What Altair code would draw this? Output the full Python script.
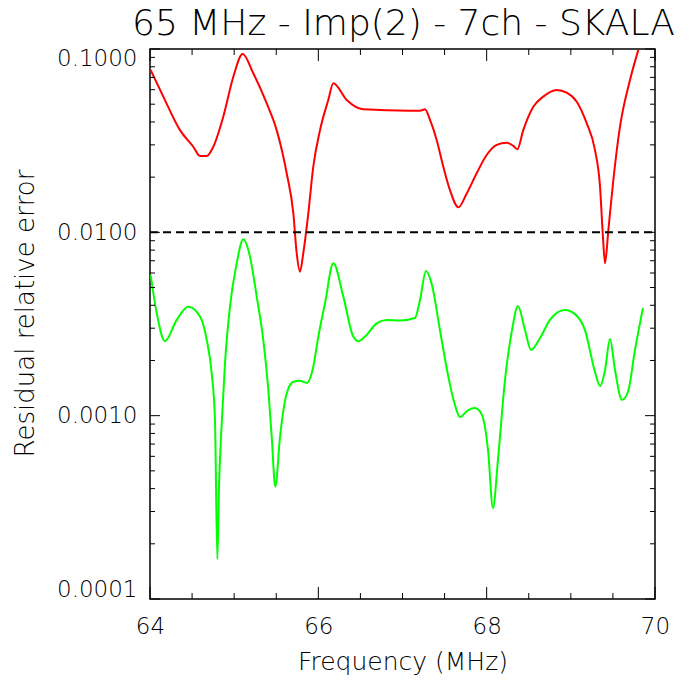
import altair as alt
import pandas as pd

# Red curve (upper)
red_freq = [64.008, 64.158, 64.356, 64.514, 64.594, 64.674, 64.752, 64.871, 64.990, 65.101,
            65.227, 65.386, 65.505, 65.624, 65.703, 65.743, 65.782, 65.821, 65.881, 65.940,
            66.020, 66.118, 66.178, 66.337, 66.534, 67.089, 67.208, 67.267, 67.327, 67.406,
            67.485, 67.564, 67.663, 67.763, 67.881, 68.000, 68.119, 68.238, 68.316, 68.364,
            68.435, 68.554, 68.673, 68.832, 68.951, 69.070, 69.188, 69.287, 69.347, 69.379,
            69.406, 69.446, 69.505, 69.584, 69.703, 69.802]
red_val = [0.0768, 0.0550, 0.0361, 0.0293, 0.0261, 0.0261, 0.0293, 0.0428, 0.0706, 0.0939,
           0.0737, 0.0506, 0.0361, 0.0210, 0.0127, 0.00769, 0.00610, 0.00769, 0.0127, 0.0228,
           0.0361, 0.0527, 0.0650, 0.0527, 0.0469, 0.0461, 0.0461, 0.0469, 0.0410, 0.0319,
           0.0228, 0.0170, 0.0137, 0.0163, 0.0210, 0.0264, 0.0300, 0.0308, 0.0296, 0.0284,
           0.0361, 0.0484, 0.0550, 0.0598, 0.0578, 0.0516, 0.0394, 0.0281, 0.0177, 0.00989,
           0.00678, 0.0103, 0.0193, 0.0377, 0.0678, 0.0990]

# Green curve (lower)
green_freq = [64.008, 64.080, 64.178, 64.317, 64.455, 64.594, 64.674, 64.733, 64.772, 64.800,
              64.820, 64.852, 64.891, 64.950, 65.030, 65.108, 65.188, 65.268, 65.346, 65.406,
              65.446, 65.489, 65.545, 65.624, 65.703, 65.782, 65.862, 65.940, 66.000, 66.079,
              66.178, 66.297, 66.415, 66.475, 66.554, 66.693, 66.812, 66.962, 67.148, 67.208,
              67.279, 67.350, 67.445, 67.540, 67.624, 67.683, 67.778, 67.861, 67.944, 68.016,
              68.075, 68.134, 68.218, 68.301, 68.372, 68.455, 68.527, 68.634, 68.752, 68.930,
              69.049, 69.168, 69.287, 69.347, 69.406, 69.465, 69.525, 69.608, 69.679, 69.762,
              69.857]
green_val = [0.00585, 0.00362, 0.00255, 0.00333, 0.00393, 0.00347, 0.00259, 0.00170, 0.000947, 0.000165,
             0.000410, 0.000908, 0.00193, 0.00393, 0.00678, 0.00916, 0.00736, 0.00446, 0.00259, 0.00138,
             0.000768, 0.000410, 0.000768, 0.00132, 0.00153, 0.00155, 0.00151, 0.00185, 0.00270, 0.00410,
             0.00678, 0.00446, 0.00270, 0.00255, 0.00270, 0.00319, 0.00333, 0.00330, 0.00341, 0.00428,
             0.00615, 0.00516, 0.00293, 0.00167, 0.00114, 0.000984, 0.00107, 0.00110, 0.00101, 0.000650,
             0.000313, 0.000573, 0.00157, 0.00293, 0.00396, 0.00293, 0.00228, 0.00265, 0.00333, 0.00377,
             0.00358, 0.00293, 0.00173, 0.00145, 0.00177, 0.00262, 0.00177, 0.00122, 0.00135, 0.00228,
             0.00387]

threshold_freq = [64.0, 70.0]
threshold_val = [0.01, 0.01]

x_major = [64, 66, 68, 70]
x_minor = [64.5, 65.0, 65.5, 66.5, 67.0, 67.5, 68.5, 69.0, 69.5]
y_major = [0.0001, 0.001, 0.01, 0.1]
y_minor = [m * d for d in [0.0001, 0.001, 0.01] for m in range(2, 10)]

TITLE = ["65 MHz - Imp(2) - 7ch - SKALA"]
FONT = "DejaVu Sans"
W, H = 505, 550

xs = alt.Scale(domain=[64, 70], nice=False, zero=False)
ys = alt.Scale(type="log", domain=[0.0001, 0.1], nice=False)

red_df = pd.DataFrame({"f": red_freq, "v": red_val})
green_df = pd.DataFrame({"f": green_freq, "v": green_val})
thr_df = pd.DataFrame({"f": threshold_freq, "v": threshold_val})

x_axis = alt.Axis(values=x_major, format="d", ticks=False, domain=False, grid=False,
                  labelFont=FONT, labelFontSize=23, labelColor="black", labelPadding=16,
                  labelFlush=False, labelFontWeight=200,
                  title="Frequency (MHz)", titleFont=FONT, titleFontSize=25, titleFontWeight=200,
                  titleColor="black", titleBaseline="alphabetic", titleY=70)
y_axis = alt.Axis(values=y_major, format=".4f", ticks=False, domain=False, grid=False,
                  labelFont=FONT, labelFontSize=23, labelColor="black", labelPadding=13,
                  labelFlush=True, labelFlushOffset=2, labelFontWeight=200,
                  title="Residual relative error", titleFont=FONT, titleFontSize=26,
                  titleFontWeight=200, titleColor="black", titleBaseline="alphabetic",
                  titleAlign="center", titleX=-117, titleY=264, titleAngle=270)

base_x = alt.X("f:Q", scale=xs, axis=x_axis)
base_y = alt.Y("v:Q", scale=ys, axis=y_axis)

red = alt.Chart(red_df).mark_line(color="#ff0000", strokeWidth=2, clip=True,
                                  interpolate="monotone").encode(
    x=base_x, y=base_y, order="f:Q")
green = alt.Chart(green_df).mark_line(color="#00ff00", strokeWidth=2, clip=True,
                                      interpolate="monotone").encode(
    x=alt.X("f:Q", scale=xs), y=alt.Y("v:Q", scale=ys), order="f:Q")
thr = alt.Chart(thr_df).mark_line(color="black", strokeWidth=2, strokeDash=[8, 5]).encode(
    x=alt.X("f:Q", scale=xs), y=alt.Y("v:Q", scale=ys))

title = alt.Chart(pd.DataFrame({"t": TITLE})).mark_text(
    font=FONT, fontSize=36, fontWeight=200, color="black", align="center",
    baseline="alphabetic").encode(
    text="t:N", x=alt.value(W / 2 + 1), y=alt.value(-14))


def xticks(vals, length):
    df = pd.DataFrame({"f": vals})
    b = alt.Chart(df).mark_rule(color="black", strokeWidth=1).encode(
        x=alt.X("f:Q", scale=xs), y=alt.value(H), y2=alt.value(H - length))
    t = alt.Chart(df).mark_rule(color="black", strokeWidth=1).encode(
        x=alt.X("f:Q", scale=xs), y=alt.value(0), y2=alt.value(length))
    return [b, t]


def yticks(vals, length):
    df = pd.DataFrame({"v": vals})
    l = alt.Chart(df).mark_rule(color="black", strokeWidth=1).encode(
        y=alt.Y("v:Q", scale=ys), x=alt.value(0), x2=alt.value(length))
    r = alt.Chart(df).mark_rule(color="black", strokeWidth=1).encode(
        y=alt.Y("v:Q", scale=ys), x=alt.value(W), x2=alt.value(W - length))
    return [l, r]


layers = [red, green, thr, title] + xticks(x_major, 12) + xticks(x_minor, 6) \
    + yticks(y_major, 10) + yticks(y_minor, 5)

chart = alt.layer(*layers).properties(
    width=W, height=H,
    padding={"left": 150, "top": 49, "right": 45, "bottom": 101},
    autosize=alt.AutoSizeParams(type="none"),
    background="white",
).configure_view(stroke="black", strokeWidth=1.5)

chart.save("out.html", embed_options={"renderer": "svg", "actions": False})
